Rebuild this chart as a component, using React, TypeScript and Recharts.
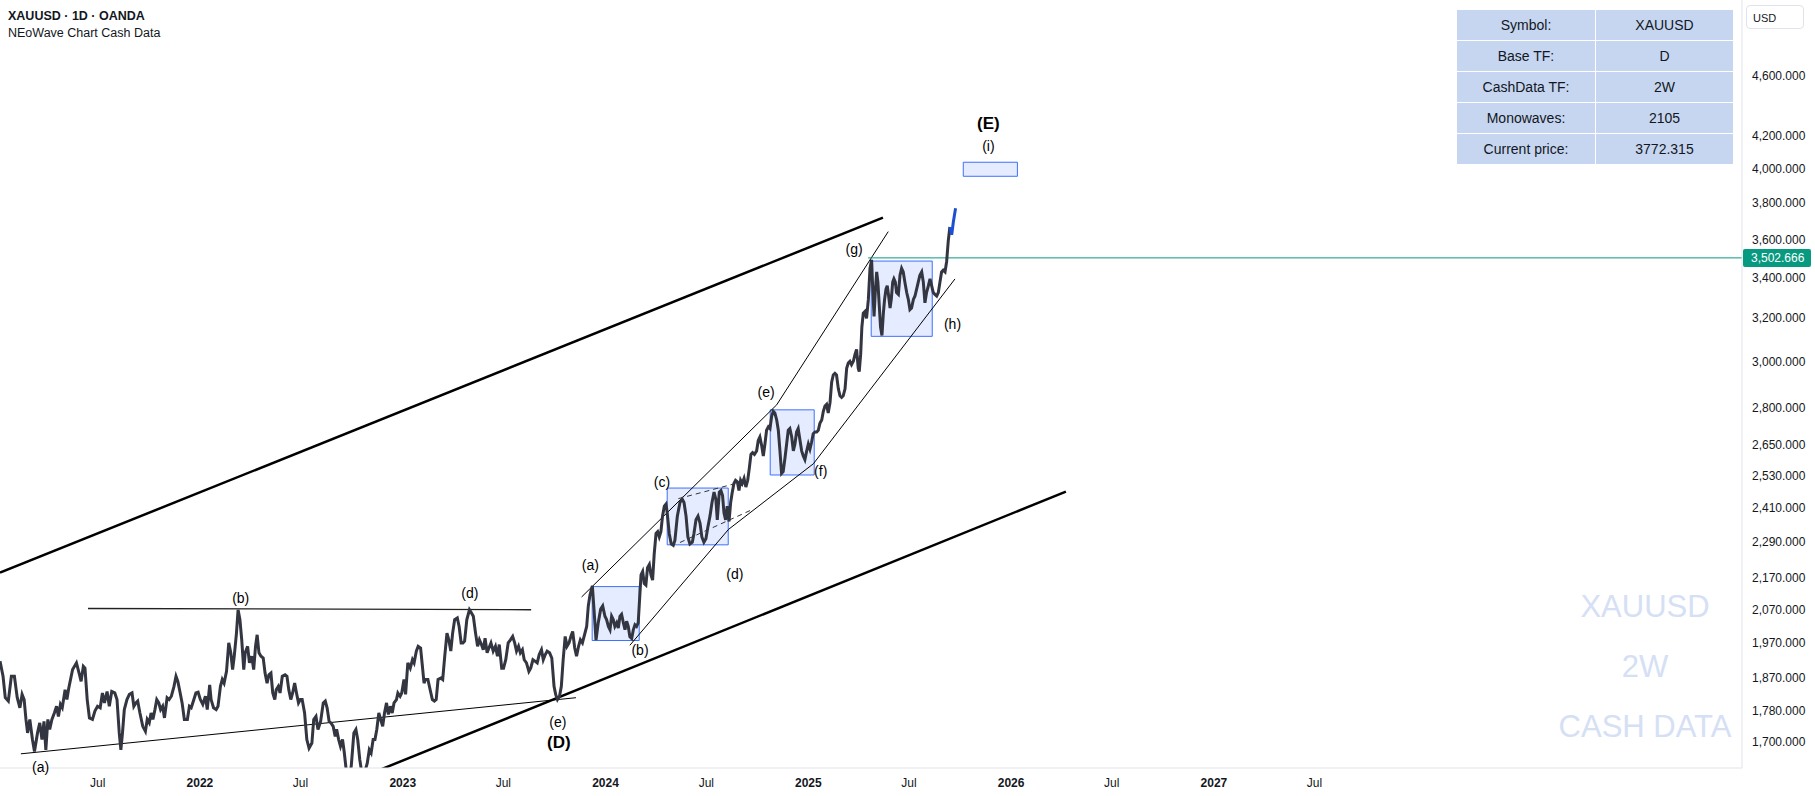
import {
  ComposedChart,
  Line,
  XAxis,
  YAxis,
  ReferenceLine,
  ReferenceArea,
  ReferenceDot,
} from 'recharts';

const FONT = '"Liberation Sans", Arial, sans-serif';
const TEXT = '#131722';

// cash data path: time as decimal year, price in USD
const waveTimes = [
  2021.014, 2021.029, 2021.04, 2021.055, 2021.07, 2021.085, 2021.099, 2021.112, 2021.123, 2021.133,
  2021.142, 2021.15, 2021.161, 2021.174, 2021.184, 2021.199, 2021.21, 2021.221, 2021.231, 2021.24,
  2021.25, 2021.259, 2021.27, 2021.282, 2021.293, 2021.302, 2021.312, 2021.321, 2021.335, 2021.344,
  2021.353, 2021.372, 2021.391, 2021.404, 2021.414, 2021.425, 2021.433, 2021.444, 2021.455, 2021.47,
  2021.482, 2021.495, 2021.508, 2021.519, 2021.529, 2021.542, 2021.553, 2021.565, 2021.58, 2021.591,
  2021.602, 2021.61, 2021.618, 2021.627, 2021.64, 2021.652, 2021.665, 2021.674, 2021.684, 2021.693,
  2021.704, 2021.718, 2021.731, 2021.74, 2021.75, 2021.759, 2021.768, 2021.778, 2021.787, 2021.797,
  2021.806, 2021.816, 2021.825, 2021.838, 2021.848, 2021.859, 2021.872, 2021.882, 2021.891, 2021.901,
  2021.912, 2021.923, 2021.938, 2021.948, 2021.957, 2021.97, 2021.98, 2021.991, 2022.002, 2022.014,
  2022.027, 2022.036, 2022.048, 2022.055, 2022.067, 2022.08, 2022.089, 2022.101, 2022.11, 2022.119,
  2022.131, 2022.142, 2022.152, 2022.161, 2022.169, 2022.18, 2022.188, 2022.197, 2022.206, 2022.216,
  2022.223, 2022.235, 2022.244, 2022.255, 2022.265, 2022.274, 2022.282, 2022.291, 2022.301, 2022.312,
  2022.321, 2022.331, 2022.34, 2022.35, 2022.359, 2022.369, 2022.376, 2022.386, 2022.395, 2022.406,
  2022.42, 2022.429, 2022.438, 2022.448, 2022.457, 2022.467, 2022.476, 2022.486, 2022.495, 2022.504,
  2022.516, 2022.527, 2022.538, 2022.552, 2022.561, 2022.572, 2022.582, 2022.595, 2022.608, 2022.618,
  2022.627, 2022.637, 2022.646, 2022.657, 2022.667, 2022.674, 2022.684, 2022.693, 2022.703, 2022.712,
  2022.721, 2022.735, 2022.746, 2022.759, 2022.769, 2022.778, 2022.788, 2022.797, 2022.806, 2022.816,
  2022.825, 2022.835, 2022.844, 2022.854, 2022.863, 2022.872, 2022.882, 2022.891, 2022.901, 2022.91,
  2022.92, 2022.929, 2022.939, 2022.948, 2022.957, 2022.969, 2022.976, 2022.987, 2022.995, 2023.006,
  2023.014, 2023.025, 2023.037, 2023.048, 2023.056, 2023.067, 2023.076, 2023.088, 2023.097, 2023.105,
  2023.112, 2023.124, 2023.137, 2023.146, 2023.156, 2023.165, 2023.174, 2023.188, 2023.197, 2023.207,
  2023.218, 2023.227, 2023.237, 2023.246, 2023.256, 2023.269, 2023.278, 2023.288, 2023.297, 2023.305,
  2023.316, 2023.329, 2023.339, 2023.348, 2023.359, 2023.369, 2023.378, 2023.388, 2023.397, 2023.406,
  2023.416, 2023.425, 2023.435, 2023.446, 2023.457, 2023.467, 2023.476, 2023.488, 2023.497, 2023.508,
  2023.52, 2023.531, 2023.542, 2023.552, 2023.561, 2023.571, 2023.58, 2023.59, 2023.599, 2023.61,
  2023.622, 2023.631, 2023.642, 2023.652, 2023.663, 2023.673, 2023.684, 2023.693, 2023.703, 2023.712,
  2023.724, 2023.735, 2023.746, 2023.754, 2023.763, 2023.773, 2023.782, 2023.791, 2023.801, 2023.81,
  2023.82, 2023.829, 2023.838, 2023.848, 2023.857, 2023.867, 2023.876, 2023.886, 2023.907, 2023.915,
  2023.923, 2023.935, 2023.943, 2023.953, 2023.964, 2023.976, 2023.986, 2023.997, 2024.005, 2024.014,
  2024.022, 2024.03, 2024.038, 2024.046, 2024.055, 2024.063, 2024.071, 2024.079, 2024.088, 2024.096,
  2024.104, 2024.112, 2024.12, 2024.129, 2024.137, 2024.145, 2024.153, 2024.161, 2024.166, 2024.175,
  2024.183, 2024.191, 2024.199, 2024.207, 2024.216, 2024.224, 2024.232, 2024.24, 2024.249, 2024.257,
  2024.265, 2024.273, 2024.281, 2024.29, 2024.298, 2024.304, 2024.314, 2024.324, 2024.334, 2024.342,
  2024.354, 2024.367, 2024.378, 2024.387, 2024.397, 2024.406, 2024.416, 2024.428, 2024.436, 2024.446,
  2024.456, 2024.466, 2024.475, 2024.485, 2024.495, 2024.505, 2024.515, 2024.525, 2024.535, 2024.544,
  2024.551, 2024.561, 2024.569, 2024.577, 2024.584, 2024.592, 2024.6, 2024.609, 2024.617, 2024.625,
  2024.633, 2024.641, 2024.65, 2024.658, 2024.666, 2024.674, 2024.683, 2024.692, 2024.701, 2024.709,
  2024.717, 2024.725, 2024.734, 2024.745, 2024.753, 2024.761, 2024.77, 2024.778, 2024.786, 2024.794,
  2024.803, 2024.811, 2024.819, 2024.827, 2024.835, 2024.844, 2024.852, 2024.86, 2024.868, 2024.876,
  2024.885, 2024.893, 2024.901, 2024.909, 2024.918, 2024.926, 2024.934, 2024.942, 2024.95, 2024.959,
  2024.967, 2024.975, 2024.983, 2024.992, 2025.0, 2025.008, 2025.016, 2025.024, 2025.033, 2025.041,
  2025.049, 2025.057, 2025.066, 2025.074, 2025.082, 2025.09, 2025.098, 2025.107, 2025.115, 2025.123,
  2025.131, 2025.139, 2025.148, 2025.156, 2025.164, 2025.172, 2025.181, 2025.189, 2025.197, 2025.205,
  2025.213, 2025.222, 2025.23, 2025.238, 2025.246, 2025.251, 2025.258, 2025.264, 2025.271, 2025.279,
  2025.287, 2025.296, 2025.304, 2025.312, 2025.317, 2025.324, 2025.33, 2025.337, 2025.343, 2025.35,
  2025.356, 2025.363, 2025.37, 2025.376, 2025.383, 2025.389, 2025.396, 2025.403, 2025.409, 2025.416,
  2025.422, 2025.429, 2025.435, 2025.444, 2025.452, 2025.46, 2025.468, 2025.476, 2025.485, 2025.493,
  2025.501, 2025.509, 2025.518, 2025.526, 2025.534, 2025.542, 2025.55, 2025.559, 2025.567, 2025.575,
  2025.583, 2025.592, 2025.6, 2025.608, 2025.616, 2025.624, 2025.633, 2025.641, 2025.649, 2025.657,
  2025.665, 2025.674, 2025.682, 2025.69, 2025.698,
];

const wavePrices = [
  1917, 1874, 1815, 1806, 1874, 1874, 1815, 1788, 1824, 1810,
  1757, 1722, 1757, 1705, 1675, 1722, 1748, 1705, 1752, 1679,
  1757, 1731, 1757, 1774, 1792, 1765, 1797, 1788, 1837, 1810,
  1841, 1893, 1912, 1883, 1860, 1902, 1897, 1810, 1761, 1757,
  1779, 1792, 1788, 1828, 1801, 1832, 1792, 1832, 1828, 1810,
  1722, 1679, 1722, 1783, 1810, 1824, 1828, 1792, 1801, 1806,
  1774, 1739, 1726, 1757, 1748, 1774, 1757, 1783, 1810, 1801,
  1783, 1792, 1761, 1815, 1810, 1819, 1846, 1874, 1860, 1832,
  1801, 1757, 1757, 1792, 1788, 1810, 1828, 1830, 1810, 1797,
  1819, 1783, 1850, 1810, 1788, 1783, 1792, 1846, 1865, 1855,
  1888, 1970, 1941, 1893, 1931, 1999, 2070, 2040, 1979, 1893,
  1941, 1960, 1912, 1931, 1893, 1960, 1994, 1941, 1931, 1926,
  1883, 1855, 1878, 1883, 1828, 1810, 1837, 1846, 1828, 1874,
  1878, 1874, 1837, 1810, 1828, 1855, 1828, 1801, 1810, 1810,
  1774, 1705, 1683, 1696, 1757, 1765, 1731, 1752, 1801, 1806,
  1788, 1752, 1748, 1739, 1713, 1731, 1705, 1688, 1705, 1671,
  1630, 1614, 1638, 1722, 1731, 1705, 1655, 1626, 1614, 1630,
  1646, 1679, 1671, 1705, 1705, 1731, 1774, 1757, 1739, 1774,
  1801, 1770, 1792, 1774, 1801, 1810, 1828, 1819, 1828, 1865,
  1824, 1912, 1897, 1921, 1912, 1946, 1960, 1955, 1902, 1855,
  1865, 1865, 1832, 1810, 1806, 1810, 1865, 1869, 1865, 1931,
  1999, 1979, 1946, 1999, 2040, 2045, 2019, 1970, 1970, 1975,
  2040, 2070, 2060, 2050, 1999, 1960, 1979, 1965, 1950, 1984,
  1941, 1955, 1970, 1946, 1960, 1931, 1965, 1897, 1897, 1921,
  1970, 1979, 1989, 1970, 1946, 1960, 1941, 1950, 1921, 1912,
  1888, 1897, 1921, 1917, 1912, 1936, 1950, 1921, 1936, 1946,
  1941, 1926, 1846, 1824, 1810, 1819, 1846, 1921, 1989, 1960,
  1970, 1989, 2004, 1955, 1931, 1960, 1979, 1970, 2019, 2082,
  2115, 2145, 2072, 1978, 2030, 2072, 2082, 2050, 2040, 2019,
  2009, 2050, 2040, 2019, 2030, 2014, 2050, 2056, 2030, 2009,
  2035, 2019, 1988, 1983, 2009, 2024, 2019, 2030, 2082, 2181,
  2192, 2153, 2148, 2204, 2215, 2181, 2164, 2250, 2320, 2326,
  2308, 2326, 2381, 2417, 2424, 2393, 2320, 2284, 2279, 2296,
  2381, 2430, 2442, 2430, 2381, 2308, 2284, 2290, 2320, 2368,
  2381, 2356, 2308, 2290, 2302, 2344, 2381, 2430, 2468, 2442,
  2368, 2468, 2474, 2455, 2393, 2368, 2417, 2362, 2430, 2468,
  2500, 2512, 2506, 2474, 2512, 2500, 2519, 2487, 2512, 2558,
  2611, 2618, 2611, 2625, 2666, 2680, 2645, 2605, 2652, 2707,
  2721, 2714, 2764, 2785, 2778, 2749, 2707, 2625, 2538, 2545,
  2598, 2652, 2707, 2714, 2680, 2625, 2652, 2700, 2714, 2666,
  2625, 2605, 2591, 2625, 2652, 2632, 2659, 2693, 2700, 2700,
  2707, 2735, 2749, 2785, 2807, 2814, 2778, 2821, 2909, 2940,
  2947, 2940, 2880, 2850, 2843, 2850, 2880, 2970, 2993, 3001,
  2986, 3001, 3032, 3055, 2970, 2955, 3032, 3159, 3225, 3233,
  3200, 3292, 3448, 3493, 3360, 3209, 3326, 3430, 3378, 3258,
  3159, 3119, 3225, 3292, 3343, 3360, 3309, 3250, 3292, 3378,
  3395, 3378, 3326, 3317, 3413, 3448, 3430, 3378, 3326, 3292,
  3242, 3250, 3292, 3309, 3343, 3378, 3413, 3430, 3378, 3275,
  3326, 3360, 3395, 3360, 3326, 3317, 3309, 3326, 3378, 3430,
  3439, 3430, 3484, 3593, 3668,
];

// current (unfinished) cash data period, drawn in blue
const liveTimes = [2025.698, 2025.707, 2025.715, 2025.726];
const livePrices = [3668, 3626, 3696, 3772.315];

const priceTicks = [1700, 1780, 1870, 1970, 2070, 2170, 2290, 2410, 2530, 2650, 2800, 3000, 3200, 3400, 3600, 3800, 4000, 4200, 4600];
const timeTicks = [2021.496, 2022, 2022.496, 2023, 2023.496, 2024, 2024.497, 2025, 2025.496, 2026, 2026.496, 2027, 2027.496];
const timeDomain = [2021.014, 2029.604];
const priceDomain = [1634, 5150];
const markedPrice = 3502.666;
const markedFrom = 2025.295;

// trendlines [t1, p1, t2, p2]
const channelLines = [
  [2021.014, 2188, 2025.368, 3720],
  [2022.789, 1610, 2026.27, 2470],
];
const thinLines = [
  [2021.117, 1669, 2023.854, 1815],
  [2023.882, 2110, 2024.844, 2812],
  [2024.844, 2812, 2025.394, 3643],
  [2024.12, 1963, 2024.606, 2334],
  [2024.606, 2334, 2025.025, 2575],
  [2025.025, 2575, 2025.723, 3394],
];
const flatLine = [2021.448, 2074, 2023.633, 2070];
const dashedLines = [
  [2024.359, 2444, 2024.646, 2501],
  [2024.367, 2289, 2024.728, 2406],
];

// boxes [t1, t2, p1, p2]
const boxes = [
  [2023.934, 2024.166, 1977, 2143],
  [2024.304, 2024.605, 2281, 2483],
  [2024.812, 2025.029, 2532, 2791],
  [2025.31, 2025.611, 3115, 3486],
  [2025.764, 2026.031, 3957, 4041],
];

// wave labels [text, t, p, size, weight]
const waveLabels: [string, number, number, number, number][] = [
  ['(a)', 2021.214, 1636, 14, 400],
  ['(b)', 2022.201, 2106, 14, 400],
  ['(d)', 2023.331, 2124, 14, 400],
  ['(e)', 2023.765, 1749, 14, 400],
  ['(D)', 2023.77, 1698, 17, 600],
  ['(a)', 2023.925, 2214, 14, 400],
  ['(b)', 2024.17, 1948, 14, 400],
  ['(c)', 2024.278, 2504, 14, 400],
  ['(d)', 2024.638, 2185, 14, 400],
  ['(e)', 2024.792, 2866, 14, 400],
  ['(f)', 2025.061, 2548, 14, 400],
  ['(g)', 2025.226, 3550, 14, 400],
  ['(h)', 2025.711, 3173, 14, 400],
  ['(E)', 2025.888, 4285, 17, 600],
  ['(i)', 2025.888, 4140, 14, 400],
];

const tableRows = [
  ['Symbol:', 'XAUUSD'],
  ['Base TF:', 'D'],
  ['CashData TF:', '2W'],
  ['Monowaves:', '2105'],
  ['Current price:', '3772.315'],
];
const watermark = ['XAUUSD', '2W', 'CASH DATA'];

const fmtPrice = (v: number) =>
  v.toLocaleString('en-US', { minimumFractionDigits: 3, maximumFractionDigits: 3 });

const rows: any[] = waveTimes
  .map((t, i) => ({ t, p: wavePrices[i] }))
  .concat(liveTimes.map((t, i) => ({ t, b: livePrices[i] }) as any));

const TimeTick = (props: any) => {
  const { x, y, payload } = props;
  const v = payload.value;
  const isYear = Math.abs(v - Math.round(v)) < 0.001;
  return (
    <text x={x} y={y} dy={17} textAnchor="middle" fontSize={12} fontFamily={FONT} fontWeight={isYear ? 700 : 400} fill={TEXT}>
      {isYear ? Math.round(v) : 'Jul'}
    </text>
  );
};

const PriceTick = (props: any) => {
  const { x, y, payload } = props;
  return (
    <text x={x} y={y} dy={4} textAnchor="start" fontSize={12} fontFamily={FONT} fill={TEXT}>
      {fmtPrice(payload.value)}
    </text>
  );
};

const PriceBadge = (props: any) => {
  const vb = props.viewBox;
  if (!vb) return null;
  const x = vb.x + vb.width;
  const y = vb.y;
  return (
    <g>
      <rect x={x + 1} y={y - 9} width={68} height={18} rx={2} fill="#089981" />
      <text x={x + 9} y={y + 4} fill="#fff" fontSize={12} fontFamily={FONT}>
        {fmtPrice(markedPrice)}
      </text>
    </g>
  );
};

export default function App() {
  return (
    <div style={{ position: 'relative', width: 1815, height: 796, background: '#fff', overflow: 'hidden', fontFamily: FONT }}>
      <style>{'body{margin:0}'}</style>
      <ComposedChart width={1815} height={796} data={rows} margin={{ top: 0, right: 0, bottom: 0, left: 0 }}>
        <XAxis
          dataKey="t"
          type="number"
          domain={timeDomain}
          allowDataOverflow
          ticks={timeTicks}
          tick={<TimeTick />}
          tickLine={false}
          tickSize={0}
          height={28}
          axisLine={{ stroke: '#e0e3eb' }}
        />
        <YAxis
          orientation="right"
          type="number"
          scale="log"
          domain={priceDomain}
          allowDataOverflow
          ticks={priceTicks}
          tick={<PriceTick />}
          tickLine={false}
          tickSize={0}
          tickMargin={10}
          width={73}
          axisLine={{ stroke: '#e0e3eb' }}
        />

        {boxes.map((b, i) => (
          <ReferenceArea
            key={'box' + i}
            x1={b[0]}
            x2={b[1]}
            y1={b[2]}
            y2={b[3]}
            fill="#2962ff"
            fillOpacity={0.12}
            stroke="#2962ff"
            strokeOpacity={0.9}
            strokeWidth={1}
            ifOverflow="hidden"
          />
        ))}

        {channelLines.map((l, i) => (
          <ReferenceLine
            key={'ch' + i}
            segment={[{ x: l[0], y: l[1] }, { x: l[2], y: l[3] }]}
            stroke="#000"
            strokeWidth={2.5}
            ifOverflow="hidden"
          />
        ))}
        {thinLines.map((l, i) => (
          <ReferenceLine
            key={'thin' + i}
            segment={[{ x: l[0], y: l[1] }, { x: l[2], y: l[3] }]}
            stroke="#000"
            strokeWidth={1}
            ifOverflow="hidden"
          />
        ))}
        <ReferenceLine
          segment={[{ x: flatLine[0], y: flatLine[1] }, { x: flatLine[2], y: flatLine[3] }]}
          stroke="#222"
          strokeWidth={1.3}
          ifOverflow="hidden"
        />
        {dashedLines.map((l, i) => (
          <ReferenceLine
            key={'dash' + i}
            segment={[{ x: l[0], y: l[1] }, { x: l[2], y: l[3] }]}
            stroke="#333"
            strokeWidth={1}
            strokeDasharray="5 4"
            ifOverflow="hidden"
          />
        ))}
        <ReferenceLine
          segment={[{ x: markedFrom, y: markedPrice }, { x: timeDomain[1], y: markedPrice }]}
          stroke="#089981"
          strokeWidth={1}
          ifOverflow="visible"
          label={<PriceBadge />}
        />

        <Line
          type="linear"
          dataKey="p"
          stroke="#333640"
          strokeWidth={3}
          dot={false}
          activeDot={false}
          isAnimationActive={false}
        />
        <Line
          type="linear"
          dataKey="b"
          stroke="#1c4fd1"
          strokeWidth={3}
          dot={false}
          activeDot={false}
          isAnimationActive={false}
        />

        {waveLabels.map((w, i) => (
          <ReferenceDot
            key={'lbl' + i}
            x={w[1]}
            y={w[2]}
            r={1}
            fill="none"
            stroke="none"
            ifOverflow="hidden"
            label={{ value: w[0], position: 'center', fill: '#000', fontSize: w[3], fontWeight: w[4], fontFamily: FONT }}
          />
        ))}
      </ComposedChart>

      {/* header */}
      <div style={{ position: 'absolute', left: 8, top: 8, fontSize: 12.5, lineHeight: '17px', color: TEXT }}>
        <div style={{ fontWeight: 700 }}>XAUUSD · 1D · OANDA</div>
        <div>NEoWave Chart Cash Data</div>
      </div>

      {/* info table */}
      <table
        style={{
          position: 'absolute',
          left: 1456,
          top: 9,
          width: 278,
          borderCollapse: 'collapse',
          fontSize: 14,
          color: TEXT,
        }}
      >
        <tbody>
          {tableRows.map((r) => (
            <tr key={r[0]} style={{ height: 31 }}>
              <td style={{ width: 138, background: '#c6d6f1', border: '1px solid #fff', textAlign: 'center', padding: 0 }}>{r[0]}</td>
              <td style={{ background: '#c6d6f1', border: '1px solid #fff', textAlign: 'center', padding: 0 }}>{r[1]}</td>
            </tr>
          ))}
        </tbody>
      </table>

      {/* currency box */}
      <div
        style={{
          position: 'absolute',
          left: 1746,
          top: 5,
          width: 58,
          height: 24,
          border: '1px solid #e0e3eb',
          borderRadius: 4,
          fontSize: 11,
          lineHeight: '24px',
          paddingLeft: 6,
          boxSizing: 'border-box',
          color: TEXT,
        }}
      >
        USD
      </div>

      {/* watermark */}
      <div style={{ position: 'absolute', left: 1545, top: 577, width: 200, textAlign: 'center', fontSize: 31, lineHeight: '60px', color: '#d5e0f5' }}>
        {watermark.map((w) => (
          <div key={w}>{w}</div>
        ))}
      </div>
    </div>
  );
}
